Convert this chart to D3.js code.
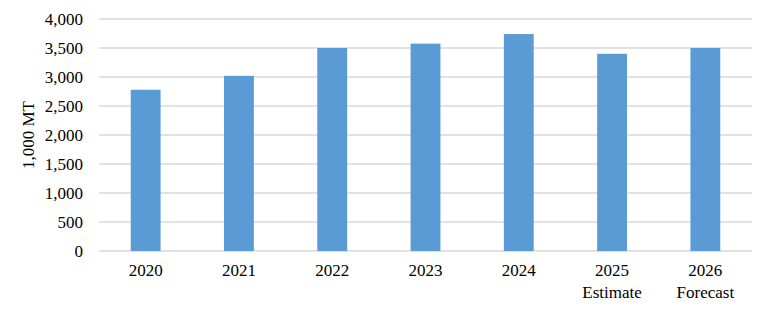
<!DOCTYPE html>
<html lang="en">
<head>
<meta charset="utf-8">
<title>1,000 MT per year</title>
<style>
body { margin: 0; background: #fff; }
.grid line { stroke: #d9d9d9; stroke-width: 1.5; }
.bar { fill: #5b9bd5; }
</style>
</head>
<body>
<svg width="765" height="311">
  <text transform="translate(34,135) rotate(-90)" text-anchor="middle"
        font-family="Liberation Serif" font-size="17" fill="#000">1,000 MT</text>
</svg>

<script src="https://cdn.jsdelivr.net/npm/d3@7"></script>
<script>

const years = ['2020', '2021', '2022', '2023', '2024', '2025', '2026'];
const subLabels = ['', '', '', '', '', 'Estimate', 'Forecast'];
const values = [2780, 3020, 3500, 3575, 3740, 3400, 3500];
const yTicks = [0, 500, 1000, 1500, 2000, 2500, 3000, 3500, 4000];

var svg = d3.select("svg"),
    margin = {top: 19, right: 13, bottom: 60, left: 99},
    width = +svg.attr("width") - margin.left - margin.right,
    height = +svg.attr("height") - margin.top - margin.bottom;

let x = d3.scaleBand().domain(years).range([0, width])
    .paddingInner(0.68).paddingOuter(0.34);
let y = d3.scaleLinear().domain([0, 4000]).range([height, 0]);

let graph = svg.append("g")
    .attr("transform", "translate(" + margin.left + "," + margin.top + ")");

// gridlines
graph.append("g")
    .attr("class", "grid")
    .selectAll("line")
    .data(yTicks)
    .enter().append("line")
      .attr("x1", 0)
      .attr("x2", width)
      .attr("y1", d => y(d))
      .attr("y2", d => y(d));

graph.append("g")
  .selectAll("rect")
  .data(years)
  .enter().append("rect")
    .attr("class", "bar")
    .attr("x", d => x(d))
    .attr("y", (d, i) => y(values[i]))
    .attr("width", x.bandwidth())
    .attr("height", (d, i) => height - y(values[i]));

// y axis, no line or ticks
let yAxis = graph.append("g")
    .call(d3.axisLeft(y).tickValues(yTicks).tickFormat(d3.format(",")).tickSize(0).tickPadding(16));
yAxis.select(".domain").remove();

// x axis with two-line labels
let xAxis = graph.append("g")
    .attr("transform", "translate(0," + height + ")")
    .call(d3.axisBottom(x).tickSize(0).tickPadding(13));
xAxis.select(".domain").remove();
xAxis.selectAll(".tick text").each(function(d, i) {
  if (subLabels[i]) {
    d3.select(this).append("tspan")
      .attr("x", 0)
      .attr("dy", "1.3em")
      .text(subLabels[i]);
  }
});

[yAxis, xAxis].forEach(a => a.attr("font-family", "Liberation Serif").attr("font-size", 17));
svg.selectAll(".tick text").attr("fill", "#000");

</script>
</body>
</html>
